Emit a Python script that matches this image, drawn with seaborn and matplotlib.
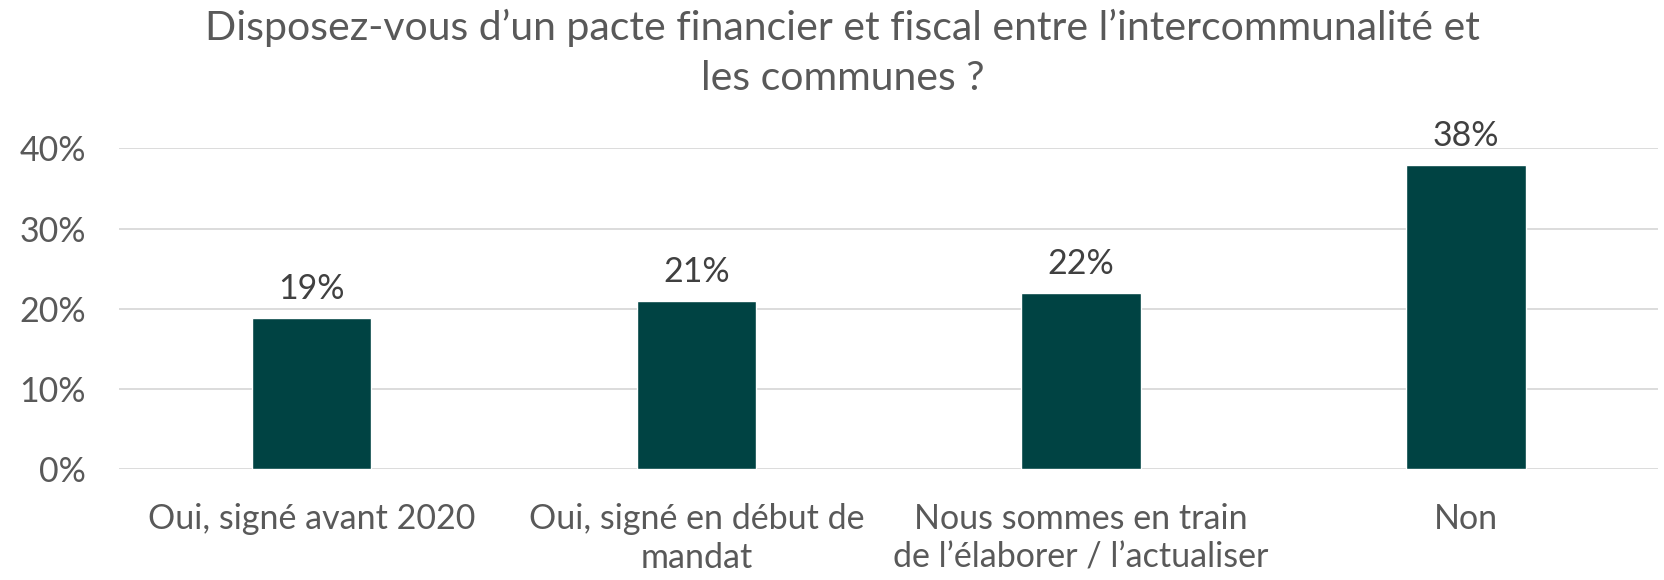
import matplotlib
matplotlib.use("Agg")
import matplotlib.pyplot as plt
import seaborn as sns
import pandas as pd

# donnees
categories = ["Oui, signé avant 2020",
              "Oui, signé en début de\nmandat",
              "Nous sommes en train\nde l\u2019élaborer / l\u2019actualiser",
              "Non"]
valeurs = [0.189, 0.21, 0.22, 0.38]
etiquettes = ["19%", "21%", "22%", "38%"]
yticks = [0, 0.1, 0.2, 0.3, 0.4]
titre = "Disposez-vous d\u2019un pacte financier et fiscal entre l\u2019intercommunalité et\nles communes ?"

sns.set_style("white")
plt.rcParams["font.family"] = ["Lato", "DejaVu Sans"]

gris = "#595959"
vert = "#004343"

df = pd.DataFrame({"cat": categories, "val": valeurs})

fig = plt.figure(figsize=(16.65, 5.8), dpi=100)
ax = fig.add_axes([0.0715, 0.191, 0.9245, 0.553])

sns.barplot(data=df, x="cat", y="val", color=vert, width=0.31, saturation=1, ax=ax, zorder=3)

for i, (v, lab) in enumerate(zip(valeurs, etiquettes)):
    ax.annotate(lab, (i, v), xytext=(0, 9), textcoords="offset points",
                ha="center", va="bottom", fontsize=24.5, color="#404040", clip_on=False)

ax.set_ylim(0, 0.40)
ax.set_xlim(-0.5, 3.5)
ax.set_yticks(yticks)
ax.set_yticklabels([f"{int(t*100)}%" for t in yticks])
ax.yaxis.grid(True, color="#d9d9d9", linewidth=1.3, zorder=0)
ax.set_axisbelow(True)
for s in ax.spines.values():
    s.set_visible(False)
ax.tick_params(axis="y", length=0, pad=24, labelsize=24.5, labelcolor=gris)
ax.tick_params(axis="x", length=0, pad=24, labelsize=24.5, labelcolor=gris)
for t in ax.get_xticklabels():
    t.set_linespacing(1.28)
ax.set_xlabel("")
ax.set_ylabel("")

fig.text(0.506, 0.985, titre, ha="center", va="top", fontsize=29.5, color=gris, linespacing=1.42)

fig.savefig("out.png", dpi=100)
